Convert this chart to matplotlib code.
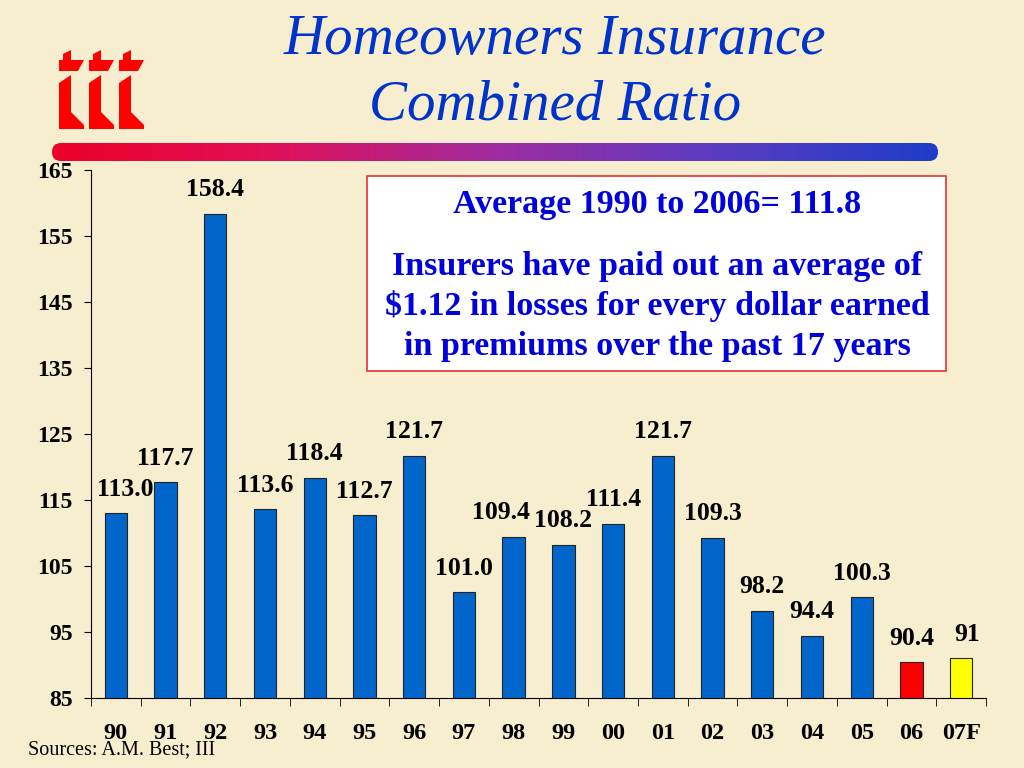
import matplotlib.pyplot as plt
import numpy as np
from matplotlib.patches import FancyBboxPatch, Polygon
from matplotlib.colors import LinearSegmentedColormap

years = ['90', '91', '92', '93', '94', '95', '96', '97', '98', '99',
         '00', '01', '02', '03', '04', '05', '06', '07F']
ratios = [113.0, 117.7, 158.4, 113.6, 118.4, 112.7, 121.7, 101.0, 109.4,
          108.2, 111.4, 121.7, 109.3, 98.2, 94.4, 100.3, 90.4, 91.0]
labels = ['113.0', '117.7', '158.4', '113.6', '118.4', '112.7', '121.7',
          '101.0', '109.4', '108.2', '111.4', '121.7', '109.3', '98.2',
          '94.4', '100.3', '90.4', '91']
colors = ['#0066CC'] * 16 + ['#FF0000', '#FFFF00']
# label nudges in pixels (dx, dy) where labels sit off centre
nudges = {0: (9, 0), 8: (-13, 0), 17: (6, 0)}

plt.rcParams['font.family'] = ['Liberation Serif', 'DejaVu Serif']
bg = '#F7EDCF'

fig = plt.figure(figsize=(10.24, 7.68), dpi=100, facecolor=bg)

# --- overlay for title decoration (pixel coordinates) ---
deco = fig.add_axes([0, 0, 1, 1])
deco.set_xlim(0, 1024)
deco.set_ylim(768, 0)
deco.axis('off')
grad = np.linspace(0, 1, 256).reshape(1, -1)
cmap = LinearSegmentedColormap.from_list('bar', ['#EC0028', '#E0105A', '#A02CA0', '#5A3CC0', '#1E3CC8'])
img = deco.imshow(grad, extent=[52, 938, 161, 143], aspect='auto', cmap=cmap)
clip = FancyBboxPatch((52, 143), 886, 18, boxstyle='round,pad=0,rounding_size=9',
                      transform=deco.transData, facecolor='none', edgecolor='none')
deco.add_patch(clip)
img.set_clip_path(clip)

# iii logo, three stylised letters
upper = [(0, 21), (0, 10), (4, 10), (4, 4), (12, 0), (12, 10), (25, 10), (19, 21)]
lower = [(0, 33), (12, 25), (12, 62), (25, 75), (25, 79), (0, 79)]
for x0 in (59, 89, 119):
    for shape in (upper, lower):
        deco.add_patch(Polygon([(x0 + px, 50 + py) for px, py in shape],
                               closed=True, facecolor='#FF0000', edgecolor='none'))

deco.text(555, 40, 'Homeowners Insurance', fontsize=41, style='italic',
          color='#0033CC', ha='center', va='center')
deco.text(555, 105, 'Combined Ratio', fontsize=41, style='italic',
          color='#0033CC', ha='center', va='center')
deco.text(28, 750, 'Sources: A.M. Best; III', fontsize=14.5, color='black',
          ha='left', va='center')

# --- main chart ---
ax = fig.add_axes([91 / 1024, 1 - 698 / 768, (986 - 91) / 1024, (698 - 170) / 768])
ax.set_facecolor('none')
x = np.arange(len(years))
ax.bar(x, [r - 85 for r in ratios], bottom=85, width=0.45, color=colors,
       edgecolor='#222222', linewidth=0.8, zorder=3)
ax.set_xlim(-0.5, len(years) - 0.5)
ax.set_ylim(85, 165)
ax.set_yticks(np.arange(85, 166, 10))
ax.set_xticks(x)
ax.set_xticklabels(years)
ax.set_xticks(np.arange(-0.5, len(years)), minor=True)
ax.tick_params(axis='x', which='major', length=0, pad=18, labelsize=17.5)
ax.tick_params(axis='x', which='minor', length=6, direction='out')
ax.tick_params(axis='y', length=5, direction='out', labelsize=17, pad=8)
for lab in ax.get_xticklabels() + ax.get_yticklabels():
    lab.set_fontweight('bold')
ax.spines['top'].set_visible(False)
ax.spines['right'].set_visible(False)

for i, (v, t) in enumerate(zip(ratios, labels)):
    dx, dy = nudges.get(i, (0, 0))
    ax.annotate(t, (i, v), xytext=(dx, 24 + dy), textcoords='offset pixels',
                ha='center', va='center', fontsize=18.5, fontweight='bold')

# --- annotation box ---
box = FancyBboxPatch((367, 176), 579, 195, boxstyle='square,pad=0',
                     transform=deco.transData, facecolor='white',
                     edgecolor='#E83030', linewidth=1.2, zorder=5)
deco.add_patch(box)
txt_kw = dict(fontsize=24.5, fontweight='bold', color='#0000DD', ha='center',
              va='center', zorder=6)
deco.text(657, 205, 'Average 1990 to 2006= 111.8', **txt_kw)
deco.text(657, 266, 'Insurers have paid out an average of', **txt_kw)
deco.text(657, 306, '$1.12 in losses for every dollar earned', **txt_kw)
deco.text(657, 347, 'in premiums over the past 17 years', **txt_kw)

fig.savefig('out.png', dpi=100, facecolor=bg)
